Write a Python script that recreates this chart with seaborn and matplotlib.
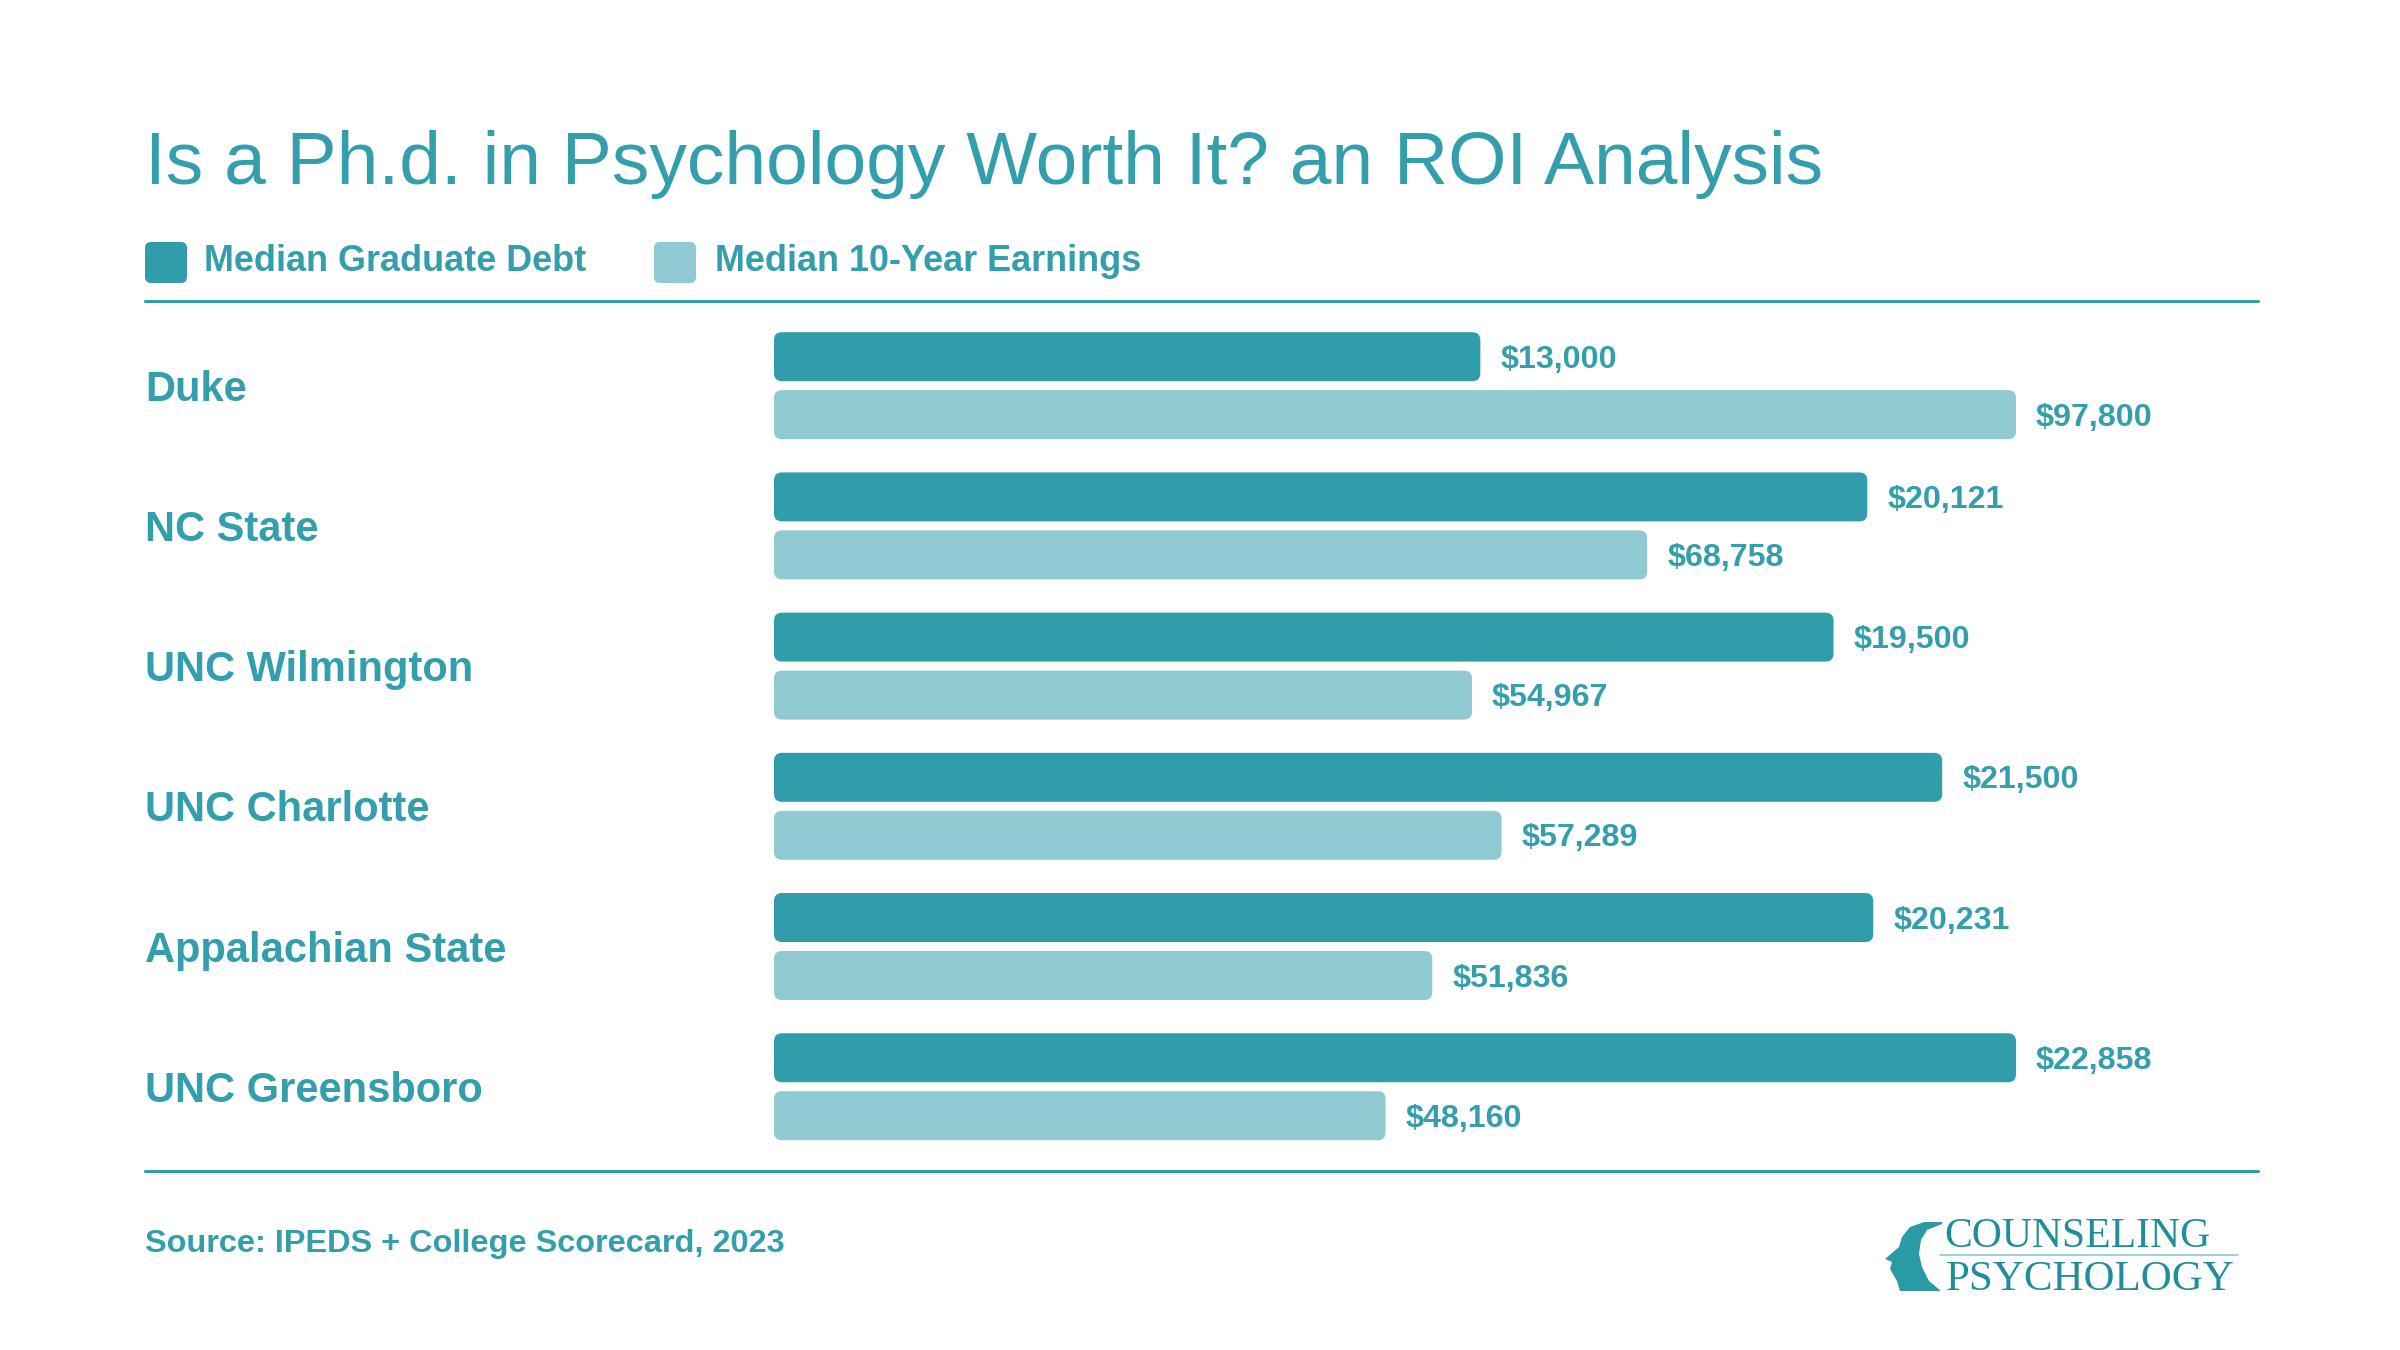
import matplotlib
matplotlib.use("Agg")
import matplotlib.pyplot as plt
import seaborn as sns
import pandas as pd
from matplotlib.patches import FancyBboxPatch, Polygon
from matplotlib.lines import Line2D
from matplotlib.transforms import blended_transform_factory

schools = ["Duke", "NC State", "UNC Wilmington", "UNC Charlotte",
           "Appalachian State", "UNC Greensboro"]
debt = [13000, 20121, 19500, 21500, 20231, 22858]
earnings = [97800, 68758, 54967, 57289, 51836, 48160]
series = ["Median Graduate Debt", "Median 10-Year Earnings"]

DARK = "#319DAA"
LIGHT = "#8FC9D1"
TEXT = "#349FAC"
W, H = 2400, 1350

# each series is scaled to its own maximum (as in the reference)
rows = []
for s, vals in zip(series, [debt, earnings]):
    top = max(vals)
    for school, v in zip(schools, vals):
        rows.append({"school": school, "series": s, "share": v / top, "value": v})
df = pd.DataFrame(rows)

sns.set_theme(style="white")
plt.rcParams["font.family"] = ["Liberation Sans", "DejaVu Sans"]

fig = plt.figure(figsize=(24, 13.5), dpi=100)
fig.patch.set_facecolor("white")

# axes spans from top rule to bottom rule, bars start at x=774px
ax = fig.add_axes([774 / W, 1 - 1171 / H, 1242 / W, 870 / H])
sns.barplot(data=df, x="share", y="school", hue="series", order=schools,
            hue_order=series, palette=[DARK, LIGHT], saturation=1, orient="h",
            width=0.827, gap=0.155, legend=False, ax=ax)
ax.set_xlim(0, 1)
ax.set_ylim(5.601, -0.604)
ax.axis("off")

# rounded bar ends
px_x = 1 / 1242
px_y = 1 / 140.2
for cont, vals in zip(ax.containers, [debt, earnings]):
    for bar, v in zip(cont, vals):
        x0, y0 = bar.get_x(), bar.get_y()
        bw, bh = bar.get_width(), bar.get_height()
        bar.set_visible(False)
        fb = FancyBboxPatch((x0, y0), bw, bh,
                            boxstyle="round,pad=0,rounding_size=%f" % (8 * px_x),
                            mutation_aspect=px_y / px_x,
                            facecolor=bar.get_facecolor(), edgecolor="none")
        ax.add_patch(fb)
        ax.text(x0 + bw + 20 * px_x, y0 + bh / 2 + 3 * px_y, "${:,}".format(v),
                ha="left", va="center", fontsize=23.2, fontweight="bold",
                color=TEXT, clip_on=False)

# category labels at the left margin
tr = blended_transform_factory(fig.transFigure, ax.transData)
for i, school in enumerate(schools):
    ax.text(145 / W, i + 4 * px_y, school, transform=tr, ha="left", va="center",
            fontsize=30, fontweight="bold", color=TEXT)

# title
fig.text(145 / W, 1 - 184 / H, "Is a Ph.d. in Psychology Worth It? an ROI Analysis",
         ha="left", va="baseline", fontsize=54, color=TEXT)

# legend
for xs, xt, s, c in [(145, 204, series[0], DARK), (654, 715, series[1], LIGHT)]:
    fig.add_artist(FancyBboxPatch((xs / W, 1 - 283 / H), 42 / W, 41 / H,
                                  boxstyle="round,pad=0,rounding_size=%f" % (6 / W),
                                  mutation_aspect=W / H, transform=fig.transFigure,
                                  facecolor=c, edgecolor="none"))
    fig.text(xt / W, 1 - 271 / H, s, ha="left", va="baseline", fontsize=25.9,
             fontweight="bold", color=TEXT)

# rules
for y in [301, 1171]:
    fig.add_artist(Line2D([145 / W, 2258 / W], [1 - y / H, 1 - y / H],
                          color=DARK, lw=2.2, transform=fig.transFigure))

# source
fig.text(145 / W, 1 - 1252 / H, "Source: IPEDS + College Scorecard, 2023",
         ha="left", va="baseline", fontsize=23.4, fontweight="bold", color=TEXT)

# logo
LOGO = "#1F8E99"
fig.text(1944 / W, 1 - 1247 / H, "COUNSELING", ha="left", va="baseline",
         fontsize=30, family="Liberation Serif", color=LOGO)
fig.text(1946 / W, 1 - 1290 / H, "PSYCHOLOGY", ha="left", va="baseline",
         fontsize=31, family="Liberation Serif", color=LOGO)
fig.add_artist(Line2D([1940 / W, 2238 / W], [1 - 1255 / H, 1 - 1255 / H],
                      color=LIGHT, lw=1.2, transform=fig.transFigure))
ax_logo = fig.add_axes([1870 / W, 1 - 1300 / H, 90 / W, 90 / H])
ax_logo.set_xlim(1870, 1960)
ax_logo.set_ylim(1300, 1210)
ax_logo.axis("off")
head = [(1942, 1222), (1924, 1222), (1910, 1227), (1902, 1237), (1899, 1247),
        (1885, 1259), (1892, 1262), (1890, 1269), (1894, 1276), (1897, 1281),
        (1900, 1291), (1941, 1291), (1929, 1281), (1922, 1267), (1919, 1254),
        (1921, 1240), (1927, 1230), (1942, 1224)]
ax_logo.add_patch(Polygon(head, closed=True, facecolor="#2A9AA5", edgecolor="none"))

fig.savefig("out.png", dpi=100, facecolor="white")
